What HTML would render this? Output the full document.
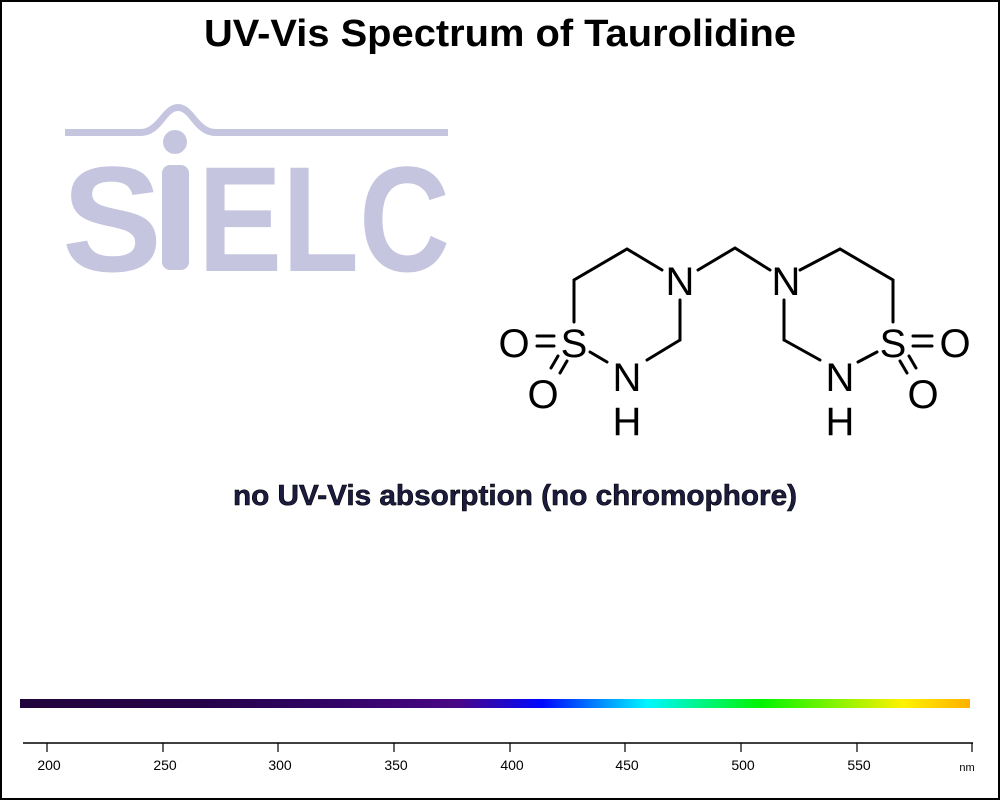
<!DOCTYPE html>
<html><head><meta charset="utf-8"><style>
html,body{margin:0;padding:0;background:#fff}
svg{display:block}
</style></head><body>
<svg width="1000" height="800" viewBox="0 0 1000 800" xmlns="http://www.w3.org/2000/svg">
<defs>
<linearGradient id="sp" x1="0" x2="1" y1="0" y2="0">
<stop offset="0" stop-color="#22043c"/>
<stop offset="0.2" stop-color="#25034a"/>
<stop offset="0.33" stop-color="#320466"/>
<stop offset="0.46" stop-color="#4a0785"/>
<stop offset="0.55" stop-color="#0008ff"/>
<stop offset="0.66" stop-color="#00f6ff"/>
<stop offset="0.78" stop-color="#00f400"/>
<stop offset="0.93" stop-color="#fff200"/>
<stop offset="1" stop-color="#ffb000"/>
</linearGradient>
</defs>
<rect x="1" y="1" width="998" height="798" fill="#fff" stroke="#000" stroke-width="2"/>
<text x="500" y="46" text-anchor="middle" font-family="Liberation Sans, sans-serif" font-weight="bold" font-size="38" textLength="592" lengthAdjust="spacingAndGlyphs">UV-Vis Spectrum of Taurolidine</text>

<!-- logo -->
<g fill="#c5c5e0" stroke="none">
<path d="M65 129 L140 129 C158 129 162 104 178 104 C194 104 198 129 216 129 L448 129 L448 136 L216 136 C194 136 190 111 178 111 C166 111 162 136 140 136 L65 136 Z"/>
<circle cx="175" cy="142" r="12"/>
<rect x="162" y="165" width="27" height="105" rx="8"/>
<text x="62" y="271" font-family="Liberation Sans, sans-serif" font-weight="bold" font-size="150">S</text>
<text x="198" y="271" font-family="Liberation Sans, sans-serif" font-weight="bold" font-size="150" textLength="252" lengthAdjust="spacingAndGlyphs">ELC</text>
</g>

<!-- molecule -->
<g stroke="#000" stroke-width="3" fill="none" stroke-linecap="round">
<polyline points="662,270 627,249 574,280 574,322"/>
<line x1="680" y1="300" x2="680" y2="340"/>
<polyline points="680,340 647,360"/>
<line x1="590" y1="352" x2="607" y2="362"/>
<line x1="537" y1="336" x2="554" y2="336"/>
<line x1="537" y1="346" x2="554" y2="346"/>
<line x1="567" y1="361" x2="560" y2="373"/>
<line x1="558" y1="356" x2="551" y2="368"/>
<polyline points="698,270 735,248 770,270"/>
<polyline points="800,270 840,249 893,280 893,322"/>
<line x1="784" y1="300" x2="784" y2="340"/>
<polyline points="784,340 820,360"/>
<line x1="877" y1="352" x2="858" y2="362"/>
<line x1="913" y1="336" x2="932" y2="336"/>
<line x1="913" y1="346" x2="932" y2="346"/>
<line x1="900" y1="361" x2="907" y2="373"/>
<line x1="909" y1="356" x2="916" y2="368"/>
</g>
<g font-family="Liberation Sans, sans-serif" font-size="40" text-anchor="middle" fill="#000">
<text x="680" y="295">N</text>
<text x="786" y="295">N</text>
<text x="574" y="357">S</text>
<text x="893" y="357">S</text>
<text x="514" y="357">O</text>
<text x="955" y="357">O</text>
<text x="543" y="408">O</text>
<text x="923" y="408">O</text>
<text x="627" y="391">N</text>
<text x="840" y="391">N</text>
<text x="627" y="435">H</text>
<text x="840" y="435">H</text>
</g>

<text x="233" y="505" font-family="Liberation Sans, sans-serif" font-weight="bold" font-size="29" fill="#1c1c40" stroke="#000" stroke-width="0.6" textLength="564" lengthAdjust="spacingAndGlyphs">no UV-Vis absorption (no chromophore)</text>

<!-- spectrum bar -->
<rect x="20" y="699" width="950" height="9" fill="url(#sp)"/>
<line x1="23" y1="743" x2="973" y2="743" stroke="#000" stroke-width="1.5"/>
<g stroke="#000" stroke-width="1.2">
<line x1="47" y1="743" x2="47" y2="752"/>
<line x1="163" y1="743" x2="163" y2="752"/>
<line x1="278" y1="743" x2="278" y2="752"/>
<line x1="394" y1="743" x2="394" y2="752"/>
<line x1="510" y1="743" x2="510" y2="752"/>
<line x1="625" y1="743" x2="625" y2="752"/>
<line x1="741" y1="743" x2="741" y2="752"/>
<line x1="857" y1="743" x2="857" y2="752"/>
<line x1="972" y1="743" x2="972" y2="752"/>
</g>
<g font-family="Liberation Sans, sans-serif" font-size="14" text-anchor="middle" fill="#000">
<text x="49" y="770">200</text>
<text x="165" y="770">250</text>
<text x="280" y="770">300</text>
<text x="396" y="770">350</text>
<text x="512" y="770">400</text>
<text x="627" y="770">450</text>
<text x="743" y="770">500</text>
<text x="859" y="770">550</text>
<text x="967" y="771" font-size="11">nm</text>
</g>
</svg>
</body></html>
